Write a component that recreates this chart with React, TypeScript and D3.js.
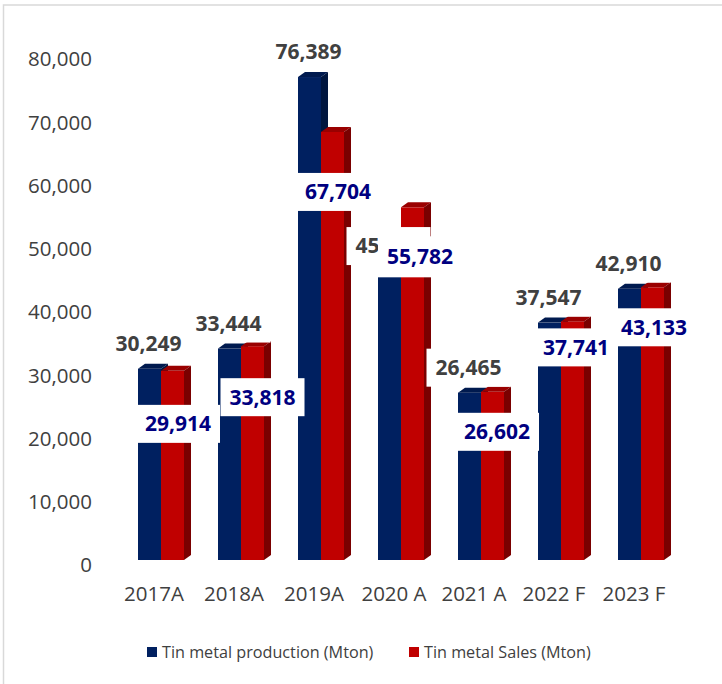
import React from 'react';
import * as d3 from 'd3';

const categories = ['2017A', '2018A', '2019A', '2020 A', '2021 A', '2022 F', '2023 F'];
const production = [30249, 33444, 76389, 45700, 26465, 37547, 42910];
const sales = [29914, 33818, 67704, 55782, 26602, 37741, 43133];
const yTicks = [0, 10000, 20000, 30000, 40000, 50000, 60000, 70000, 80000];
const seriesNames = ['Tin metal production (Mton)', 'Tin metal Sales (Mton)'];

// label placement nudges (layout, px)
const salesLabelDx = [5.5, 10, 5.5, 7.5, 4.5, 3.5, 1.5];
const salesLabelDy = [53, 51, 60, 49.5, 40, 26, 40];
const salesBoxH = [38, 38, 38, 41, 38, 38, 38];

const W = 722;
const H = 684;
const FONT = "'Open Sans', 'Noto Sans', sans-serif";

const colors = [
  { front: '#002060', top: '#001a4f', side: '#00163f' },
  { front: '#c00000', top: '#9a0000', side: '#7a0000' },
];

const DX = 7;
const DY = 5;

export default function App() {
  const y = d3.scaleLinear().domain([0, 80000]).range([560, 54.2]);
  const x = d3
    .scaleBand<string>()
    .domain(categories)
    .range([121, 681])
    .paddingInner(0.425)
    .paddingOuter(0.2125);
  const xs = d3.scaleBand<number>().domain([0, 1]).range([0, x.bandwidth()]).padding(0);
  const fmt = d3.format(',');
  const bw = xs.bandwidth();

  const bar3d = (x0: number, v: number, s: number, key: string) => {
    const yt = y(v);
    const yb = y(0);
    const c = colors[s];
    const x1 = x0 + bw;
    return (
      <g key={key}>
        <rect x={x0} y={yt} width={bw} height={yb - yt} fill={c.front} />
        <path
          d={`M${x0},${yt}L${x1},${yt}L${x1 + DX},${yt - DY}L${x0 + DX},${yt - DY}Z`}
          fill={c.top}
        />
        <path
          d={`M${x1},${yt}L${x1 + DX},${yt - DY}L${x1 + DX},${yb - DY}L${x1},${yb}Z`}
          fill={c.side}
        />
      </g>
    );
  };

  const BOXW = 84;
  const BOXH = 38;

  return (
    <div style={{ position: 'fixed', left: 0, top: 0, width: W, height: H, background: '#fff' }}>
      <svg width={W} height={H} style={{ display: 'block' }}>
        <rect x={0} y={0} width={W} height={H} fill="#fff" />
        <rect x={3.5} y={5} width={W + 10} height={H + 10} fill="none" stroke="#d9d9d9" strokeWidth={1.5} />

        {/* y axis labels */}
        {yTicks.map((t) => (
          <text
            key={t}
            x={92}
            y={y(t) + 5}
            dy="0.35em"
            textAnchor="end"
            fontFamily={FONT}
            fontSize={20.5}
            fill="#404040"
          >
            {fmt(t)}
          </text>
        ))}

        {/* bars */}
        {categories.map((cat, i) => {
          const bx = x(cat) as number;
          return (
            <g key={cat}>
              {bar3d(bx + (xs(0) as number), production[i], 0, 'p')}
              {bar3d(bx + (xs(1) as number), sales[i], 1, 's')}
            </g>
          );
        })}

        {/* category labels */}
        {categories.map((cat) => (
          <text
            key={cat}
            x={(x(cat) as number) + x.bandwidth() / 2 - 7}
            y={594}
            dy="0.35em"
            textAnchor="middle"
            fontFamily={FONT}
            fontSize={20.5}
            fill="#404040"
          >
            {cat}
          </text>
        ))}

        {/* production labels */}
        {categories.map((cat, i) => {
          const cx = (x(cat) as number) + (xs(0) as number) + bw / 2 - 1;
          const cy = y(production[i]) - 25;
          return (
            <g key={'pl' + cat}>
              <rect x={cx - BOXW / 2} y={cy - BOXH / 2} width={BOXW} height={BOXH} fill="#fff" />
              <text
                x={cx}
                y={cy}
                dy="0.35em"
                textAnchor="middle"
                fontFamily={FONT}
                fontWeight="bold"
                fontSize={21}
                fill="#404040"
              >
                {fmt(production[i])}
              </text>
            </g>
          );
        })}

        {/* sales labels */}
        {categories.map((cat, i) => {
          const cx = (x(cat) as number) + (xs(1) as number) + bw / 2 + salesLabelDx[i];
          const cy = y(sales[i]) + salesLabelDy[i];
          const bh = salesBoxH[i];
          return (
            <g key={'sl' + cat}>
              <rect x={cx - BOXW / 2} y={cy - bh / 2} width={BOXW} height={bh} fill="#fff" />
              <text
                x={cx}
                y={cy}
                dy="0.35em"
                textAnchor="middle"
                fontFamily={FONT}
                fontWeight="bold"
                fontSize={21}
                fill="#000080"
              >
                {fmt(sales[i])}
              </text>
            </g>
          );
        })}

        {/* legend */}
        <g>
          <rect x={147} y={647} width={10} height={10} fill={colors[0].front} />
          <text x={162} y={652} dy="0.35em" fontFamily={FONT} fontSize={16.2} fill="#404040">
            {seriesNames[0]}
          </text>
          <rect x={409} y={647} width={10} height={10} fill={colors[1].front} />
          <text x={424} y={652} dy="0.35em" fontFamily={FONT} fontSize={16.2} fill="#404040">
            {seriesNames[1]}
          </text>
        </g>
      </svg>
    </div>
  );
}
